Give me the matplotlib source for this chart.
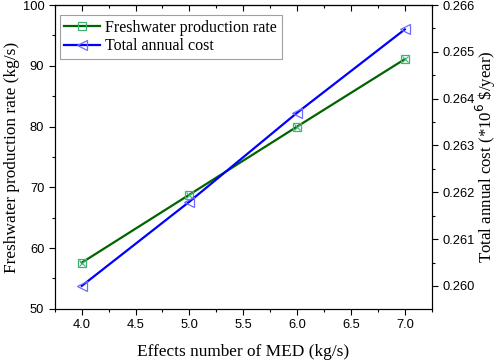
import matplotlib
matplotlib.use('Agg')
import matplotlib.pyplot as plt
from matplotlib.ticker import MultipleLocator, AutoMinorLocator

# datos
efectos = [4.0, 5.0, 6.0, 7.0]
agua_dulce = [57.6, 68.8, 80.0, 91.1]
costo_anual = [0.2600, 0.2618, 0.2637, 0.26548]

serif = 'Liberation Serif'
sans = 'Liberation Sans'

fig = plt.figure(figsize=(4.98, 3.6), dpi=100)
ax = fig.add_axes([0.110, 0.142, 0.757, 0.844])
ax2 = ax.twinx()

verde = '#006400'
azul = '#0000ff'

l1, = ax.plot(efectos, agua_dulce, color=verde, lw=1.6, marker='s', ms=5.5,
              mfc='none', mec='#3cb371', mew=0.9, label='Freshwater production rate')
ax.plot(efectos, agua_dulce, ls='none', marker='x', ms=4.5, mec='#3cb371', mew=0.8)
l2, = ax2.plot(efectos, costo_anual, color=azul, lw=1.6, marker='<', ms=7,
               mfc='none', mec='#6b6bff', mew=0.9, label='Total annual cost')

ax.set_xlim(3.75, 7.25)
ax.set_ylim(50, 100)
ax2.set_ylim(0.25951, 0.266)

ax.xaxis.set_major_locator(MultipleLocator(0.5))
ax.xaxis.set_minor_locator(AutoMinorLocator(2))
ax.yaxis.set_major_locator(MultipleLocator(10))
ax.yaxis.set_minor_locator(AutoMinorLocator(2))
ax2.yaxis.set_major_locator(MultipleLocator(0.001))
ax2.yaxis.set_minor_locator(AutoMinorLocator(2))
ax2.yaxis.set_major_formatter(plt.FormatStrFormatter('%.3f'))
ax.xaxis.set_major_formatter(plt.FormatStrFormatter('%.1f'))

ax.tick_params(axis='x', which='major', length=4, width=0.8, labelsize=9.3)
ax.tick_params(axis='x', which='minor', length=2.5, width=0.8)
ax.tick_params(axis='y', which='major', length=4, width=0.8, labelsize=9.3)
ax.tick_params(axis='y', which='minor', length=2.5, width=0.8)
ax2.tick_params(axis='y', which='major', length=4, width=0.8, labelsize=9.3)
ax2.tick_params(axis='y', which='minor', length=2.5, width=0.8)
for a in (ax, ax2):
    for lab in a.get_xticklabels() + a.get_yticklabels():
        lab.set_fontname(sans)

# ticks del borde superior hacia adentro
sec = ax.secondary_xaxis('top')
sec.set_xticks([4.0, 4.5, 5.0, 5.5, 6.0, 6.5, 7.0])
sec.set_xticklabels([])
sec.xaxis.set_minor_locator(AutoMinorLocator(2))
sec.tick_params(which='major', direction='in', length=4, width=0.8)
sec.tick_params(which='minor', direction='in', length=2.5, width=0.8)

ax.set_xlabel('Effects number of MED (kg/s)', fontname=serif, fontsize=12.4)
ax.set_ylabel('Freshwater production rate (kg/s)', fontname=serif, fontsize=12.4)
ax2.set_ylabel('Total annual cost (*10$^6$ \\$/year)', fontname=serif, fontsize=12.2)
ax.xaxis.set_label_coords(0.5, -0.141)
ax.xaxis.label.set_va('center')
ax.yaxis.set_label_coords(-0.114, 0.5)
ax.yaxis.label.set_va('center')
ax2.yaxis.set_label_coords(1.143, 0.5)
ax2.yaxis.label.set_va('center')

leg = ax.legend(handles=[l1, l2], loc='upper left', prop={'family': serif, 'size': 11.5},
                fancybox=False, edgecolor='#888888', handlelength=2.2,
                borderpad=0.3, labelspacing=0.15, handletextpad=0.35,
                borderaxespad=0, bbox_to_anchor=(0.013, 0.967))
leg.get_frame().set_linewidth(0.8)

plt.savefig('out.png', dpi=100)
